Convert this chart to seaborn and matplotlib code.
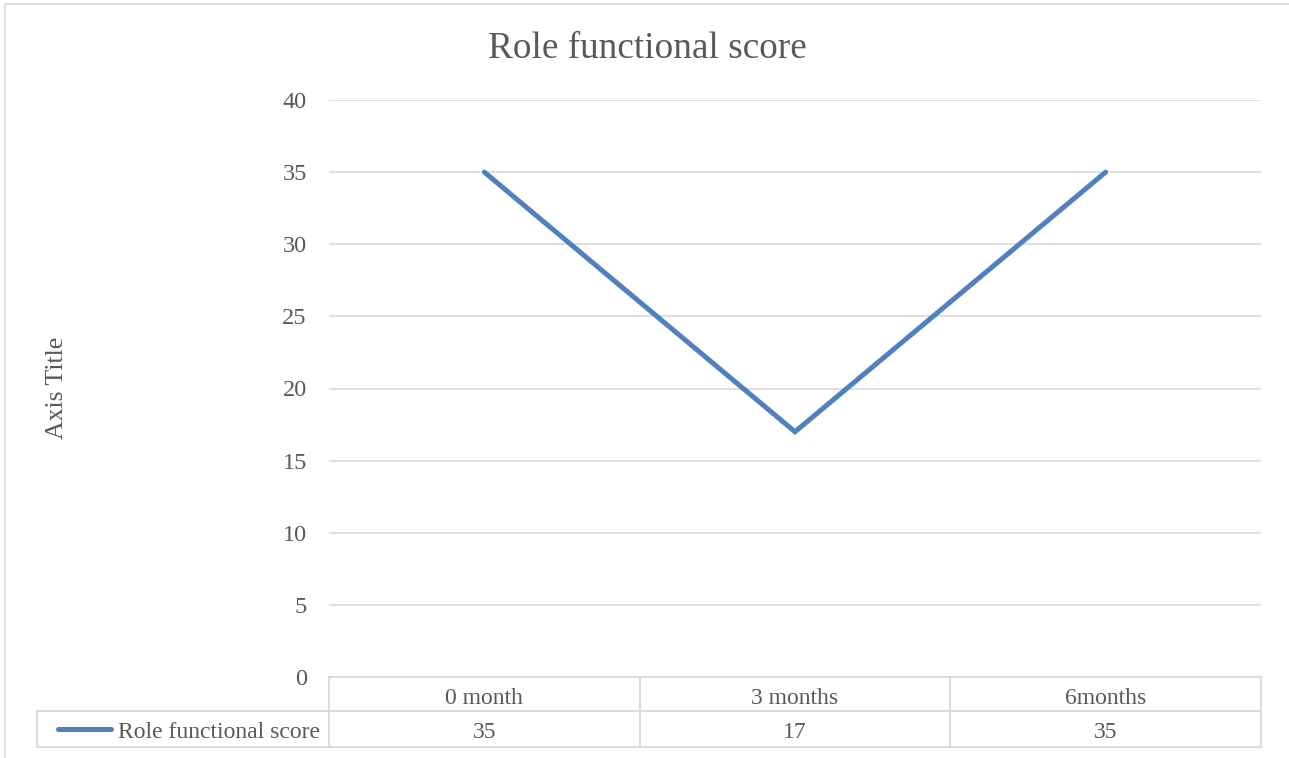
import matplotlib
matplotlib.use("Agg")
import matplotlib.pyplot as plt
from matplotlib.lines import Line2D
from matplotlib.patches import Rectangle
import seaborn as sns
import pandas as pd

# Data
periods = ["0 month", "3 months", "6months"]
scores = [35, 17, 35]
series_name = "Role functional score"
y_ticks = [0, 5, 10, 15, 20, 25, 30, 35, 40]

TEXT = "#595959"
GRID = "#d9d9d9"
LINE = "#4f81bd"
FONT = "Liberation Serif"

sns.set_theme(style="white")
plt.rcParams["font.family"] = [FONT, "DejaVu Serif"]

W, H = 1289, 758
fig = plt.figure(figsize=(W / 100, H / 100), dpi=100)
fig.patch.set_facecolor("white")

# chart border
fig.add_artist(Rectangle((5 / W, -0.05), 1.1, 1 - 4 / H + 0.05, transform=fig.transFigure,
                         fill=False, edgecolor=GRID, linewidth=1.2))

px_l, px_r, px_t, px_b = 329, 1261, 100, 677
ax = fig.add_axes([px_l / W, 1 - px_b / H, (px_r - px_l) / W, (px_b - px_t) / H])

df = pd.DataFrame({"x": range(len(periods)), "score": scores})
sns.lineplot(data=df, x="x", y="score", ax=ax, color=LINE, linewidth=3.6,
             solid_capstyle="round", solid_joinstyle="miter")

ax.set_xlim(-0.5, len(periods) - 0.5)
ax.set_ylim(0, 40)
ax.set_yticks(y_ticks)
ax.set_yticklabels([str(v) for v in y_ticks], fontsize=17.5, color=TEXT)
ax.tick_params(axis="y", length=0, pad=16)
ax.set_xticks([])
ax.set_xlabel("")
ax.set_ylabel("")
for s in ax.spines.values():
    s.set_visible(False)
ax.grid(axis="y", color=GRID, linewidth=1.2)
ax.set_axisbelow(True)

fig.text(647 / W, 1 - 45 / H, "Role functional score", ha="center", va="center_baseline",
         fontsize=26.8, color=TEXT)
fig.text(57 / W, 1 - 388 / H, "Axis Title", ha="center", va="center",
         rotation=90, fontsize=18.5, color=TEXT)

# data table below the plot area
row_top, row_mid, row_bot = 677, 711, 747
tbl_left = 37
col_edges = [px_l + i * (px_r - px_l) / len(periods) for i in range(len(periods) + 1)]


def fx(x):
    return x / W


def fy(y):
    return 1 - y / H


def hline(x0, x1, y):
    fig.add_artist(Line2D([fx(x0), fx(x1)], [fy(y), fy(y)], color=GRID, linewidth=1.3))


def vline(x, y0, y1):
    fig.add_artist(Line2D([fx(x), fx(x)], [fy(y0), fy(y1)], color=GRID, linewidth=1.3))


hline(px_l, px_r, row_top)
hline(tbl_left, px_r, row_mid)
hline(tbl_left, px_r, row_bot)
for x in col_edges:
    vline(x, row_top, row_bot)
vline(tbl_left, row_mid, row_bot)

head_y = (row_top + row_mid) / 2 + 1.5
val_y = (row_mid + row_bot) / 2 + 1.5
for i, (lab, val) in enumerate(zip(periods, scores)):
    cx = (col_edges[i] + col_edges[i + 1]) / 2
    fig.text(fx(cx), fy(head_y), lab, ha="center", va="center_baseline",
             fontsize=17, color=TEXT)
    fig.text(fx(cx), fy(val_y), str(val), ha="center", va="center_baseline",
             fontsize=17, color=TEXT)

ymid = (row_mid + row_bot) / 2
fig.add_artist(Line2D([fx(58), fx(111)], [fy(ymid), fy(ymid)], color=LINE,
                      linewidth=3.6, solid_capstyle="round"))
fig.text(fx(px_l - 9), fy(val_y), series_name, ha="right", va="center_baseline",
         fontsize=17, color=TEXT)

fig.savefig("out.png", dpi=100, facecolor="white")
